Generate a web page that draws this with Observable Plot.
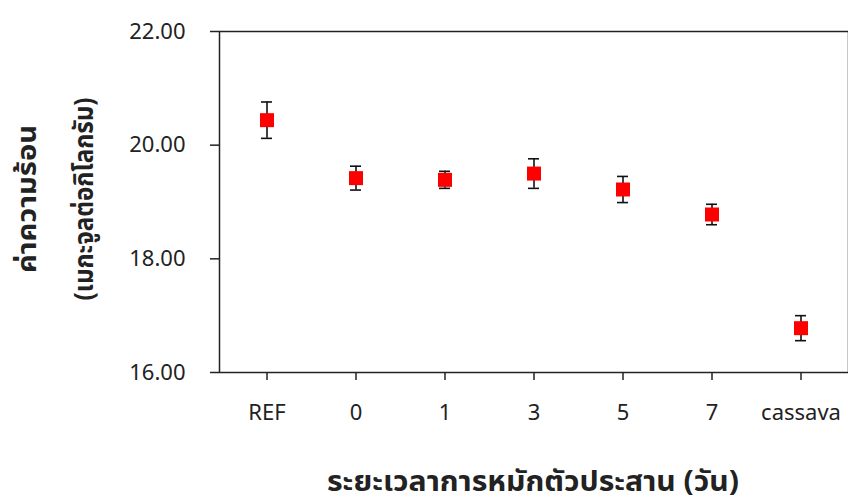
<!DOCTYPE html>
<html>
<head>
<meta charset="utf-8">
<script src="https://cdn.jsdelivr.net/npm/d3@7"></script>
<script src="https://cdn.jsdelivr.net/npm/@observablehq/plot@0.6"></script>
<style>
  body { margin: 0; background: #fff; }
  #chart svg { display: block; }
</style>
</head>
<body>
<div id="chart"></div>
<script>
// Composting period groups and measured heating values (MJ/kg) with ± error
const categories = ["REF", "0", "1", "3", "5", "7", "cassava"];
const means = [20.44, 19.42, 19.39, 19.50, 19.22, 18.78, 16.78];
const errors = [0.32, 0.21, 0.15, 0.26, 0.23, 0.18, 0.22];
const yTicks = [16, 18, 20, 22];
const xTitle = "ระยะเวลาการหมักตัวประสาน (วัน)";
const yTitleLines = ["ค่าความร้อน", "(เมกะจูลต่อกิโลกรัม)"];

const rows = categories.map((c, i) => ({
  group: c,
  mean: means[i],
  lo: means[i] - errors[i],
  hi: means[i] + errors[i]
}));

const font = "'Noto Sans', 'Noto Sans Thai', 'DejaVu Sans', sans-serif";

const chart = Plot.plot({
  width: 848,
  height: 498,
  marginLeft: 219,
  marginRight: 0,
  marginTop: 31,
  marginBottom: 126,
  style: { fontFamily: font, fontSize: "22px", color: "#222", background: "#fff" },
  x: { type: "band", domain: categories, padding: 0 },
  y: { domain: [16, 22] },
  marks: [
    Plot.frame({ stroke: "#222", strokeWidth: 1.5 }),
    Plot.axisY({
      ticks: yTicks,
      tickFormat: d => d.toFixed(2),
      tickSize: 9,
      tickPadding: 25,
      strokeWidth: 1.5,
      label: null
    }),
    Plot.axisX({
      tickSize: 8,
      tickPadding: 24,
      strokeWidth: 1.5,
      label: null
    }),
    // error bars
    Plot.ruleX(rows, { x: "group", y1: "lo", y2: "hi", stroke: "#111", strokeWidth: 1.6 }),
    Plot.tickY(rows, { x: "group", y: "lo", stroke: "#111", strokeWidth: 1.6, insetLeft: 39, insetRight: 39 }),
    Plot.tickY(rows, { x: "group", y: "hi", stroke: "#111", strokeWidth: 1.6, insetLeft: 39, insetRight: 39 }),
    // mean markers
    Plot.dot(rows, { x: "group", y: "mean", symbol: "square", r: 7.9, fill: "#ff0000", stroke: "none" })
  ]
});

const svg = d3.select(chart);

// x-axis title
svg.append("text")
  .attr("x", 533)
  .attr("y", 491)
  .attr("text-anchor", "middle")
  .attr("font-family", font)
  .attr("font-weight", "bold")
  .attr("font-size", 29)
  .attr("textLength", 412)
  .attr("lengthAdjust", "spacingAndGlyphs")
  .attr("fill", "#222")
  .text(xTitle);

// two-line y-axis title, rotated
const yTitleLayout = [
  { baseline: 36, size: 27, length: 148 },
  { baseline: 93, size: 26, length: 203 }
];
yTitleLines.forEach((line, i) => {
  const l = yTitleLayout[i];
  svg.append("text")
    .attr("transform", `translate(${l.baseline},199) rotate(-90)`)
    .attr("text-anchor", "middle")
    .attr("font-family", font)
    .attr("font-weight", "bold")
    .attr("font-size", l.size)
    .attr("textLength", l.length)
    .attr("lengthAdjust", "spacingAndGlyphs")
    .attr("fill", "#222")
    .text(line);
});

document.getElementById("chart").appendChild(chart);
</script>
</body>
</html>
